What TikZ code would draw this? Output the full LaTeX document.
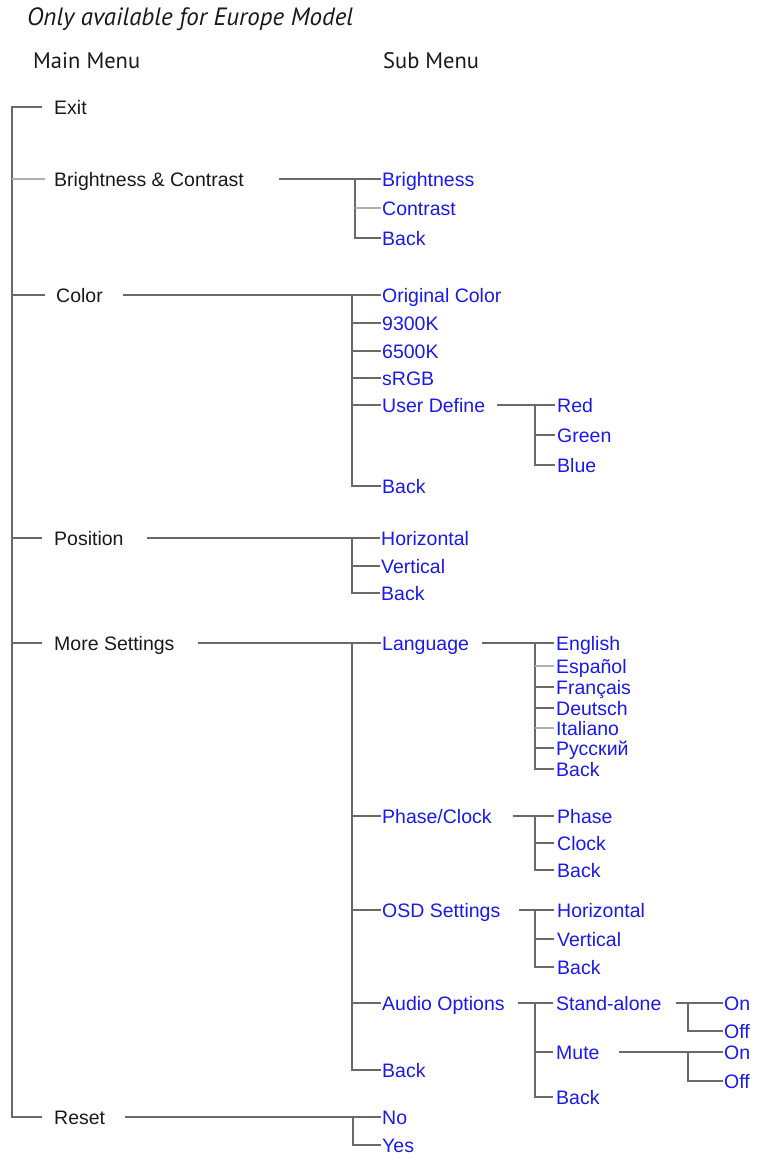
\documentclass[tikz,border=0pt]{standalone}
\usepackage{fontspec}
\setmainfont{Liberation Sans}
\newfontfamily\headfont{PT Sans}
\usetikzlibrary{calc}
\definecolor{itemblue}{RGB}{25,25,235}
\definecolor{itemblack}{RGB}{25,25,25}
\definecolor{linegray}{RGB}{105,105,105}
\definecolor{lightgraytwo}{RGB}{175,175,175}
\begin{document}
\begin{tikzpicture}[x=1pt,y=-1pt,
  item/.style={anchor=west, inner sep=0pt, text height=14.5pt, text depth=0pt, font=\fontsize{19.5}{22}\selectfont},
  mainitem/.style={item, text=itemblack},
  subitem/.style={item, text=itemblue},
  head/.style={anchor=west, inner sep=0pt, text=itemblack, font=\headfont\fontsize{22.5}{26}\selectfont},
  ln/.style={draw=linegray, line width=1.3pt},
  lnlight/.style={draw=lightgraytwo, line width=1.3pt}]
\useasboundingbox (0,0) rectangle (757,1160);

% headings
\node[head, font=\headfont\itshape\fontsize{25}{29}\selectfont] (title) at (27,19) {Only available for Europe Model};
\node[head] (mm) at (33,61) {Main Menu};
\node[head] (sm) at (383,61) {Sub Menu};

% main items
\node[mainitem] (exit) at (54,107) {Exit};
\node[mainitem] (bc) at (54,179) {Brightness \& Contrast};
\node[mainitem] (color) at (56,295) {Color};
\node[mainitem] (pos) at (54,538) {Position};
\node[mainitem] (more) at (54,643) {More Settings};
\node[mainitem] (reset) at (54,1117) {Reset};

\coordinate (m) at (12,0);
\draw[ln] ([xshift=-12pt]exit.west) -- (exit.west -| m) |- ([xshift=-12pt]reset.west);
\draw[lnlight] (bc.west -| m) -- ([xshift=-9pt]bc.west);
\draw[ln] (color.west -| m) -- ([xshift=-11pt]color.west);
\draw[ln] (pos.west -| m) -- ([xshift=-12pt]pos.west);
\draw[ln] (more.west -| m) -- ([xshift=-12pt]more.west);

% Brightness & Contrast
\node[subitem] (bri) at (382,179) {Brightness};
\node[subitem] (con) at (382,208) {Contrast};
\node[subitem] (bcb) at (382,238) {Back};
\coordinate (vb) at (355,0);
\draw[ln] ([xshift=35pt]bc.east) -- ([xshift=-1pt]bri.west);
\draw[ln] (bri.west -| vb) |- ([xshift=-1pt]bcb.west);
\draw[lnlight] (con.west -| vb) -- ([xshift=-1pt]con.west);

% Color
\node[subitem] (orig) at (382,295) {Original Color};
\node[subitem] (k93) at (382,323) {9300K};
\node[subitem] (k65) at (382,351) {6500K};
\node[subitem] (srgb) at (382,378) {sRGB};
\node[subitem] (ud) at (382,405) {User Define};
\node[subitem] (cbk) at (382,486) {Back};
\coordinate (vc) at (352,0);
\draw[ln] ([xshift=20pt]color.east) -- ([xshift=-1pt]orig.west);
\draw[ln] (orig.west -| vc) |- ([xshift=-1pt]cbk.west);
\foreach \n in {k93,k65,srgb,ud} \draw[ln] (\n.west -| vc) -- ([xshift=-1pt]\n.west);

% User Define
\node[subitem] (red) at (557,405) {Red};
\node[subitem] (green) at (557,435) {Green};
\node[subitem] (blue) at (557,465) {Blue};
\coordinate (vu) at (535,0);
\draw[ln] ([xshift=12pt]ud.east) -- ([xshift=-2pt]red.west);
\draw[ln] (red.west -| vu) |- ([xshift=-2pt]blue.west);
\draw[ln] (green.west -| vu) -- ([xshift=-2pt]green.west);

% Position
\node[subitem] (hor) at (381,538) {Horizontal};
\node[subitem] (ver) at (381,566) {Vertical};
\node[subitem] (pbk) at (381,593) {Back};
\coordinate (vp) at (352,0);
\draw[ln] ([xshift=23pt]pos.east) -- ([xshift=-1pt]hor.west);
\draw[ln] (hor.west -| vp) |- ([xshift=-1pt]pbk.west);
\draw[ln] (ver.west -| vp) -- ([xshift=-1pt]ver.west);

% More Settings
\node[subitem] (lang) at (382,643) {Language};
\node[subitem] (pc) at (382,816) {Phase/Clock};
\node[subitem] (osd) at (382,910) {OSD Settings};
\node[subitem] (aud) at (382,1003) {Audio Options};
\node[subitem] (mbk) at (382,1070) {Back};
\coordinate (vm) at (352,0);
\draw[ln] ([xshift=23pt]more.east) -- ([xshift=-1pt]lang.west);
\draw[ln] (lang.west -| vm) |- ([xshift=-1pt]mbk.west);
\foreach \n in {pc,osd,aud} \draw[ln] (\n.west -| vm) -- ([xshift=-1pt]\n.west);

% Language
\node[subitem] (en) at (556,643) {English};
\node[subitem] (es) at (556,666) {Español};
\node[subitem] (fr) at (556,687) {Français};
\node[subitem] (de) at (556,708) {Deutsch};
\node[subitem] (it) at (556,728) {Italiano};
\node[subitem] (ru) at (556,748) {Русский};
\node[subitem] (lbk) at (556,769) {Back};
\coordinate (vl) at (535,0);
\draw[ln] ([xshift=13pt]lang.east) -- ([xshift=-2pt]en.west);
\draw[ln] (en.west -| vl) |- ([xshift=-2pt]lbk.west);
\foreach \n in {fr,de,ru} \draw[ln] (\n.west -| vl) -- ([xshift=-2pt]\n.west);
\foreach \n in {es,it} \draw[lnlight] (\n.west -| vl) -- ([xshift=-2pt]\n.west);

% Phase/Clock
\node[subitem] (ph) at (557,816) {Phase};
\node[subitem] (cl) at (557,843) {Clock};
\node[subitem] (pcbk) at (557,870) {Back};
\coordinate (vpc) at (535,0);
\draw[ln] ([xshift=21pt]pc.east) -- ([xshift=-3pt]ph.west);
\draw[ln] (ph.west -| vpc) |- ([xshift=-3pt]pcbk.west);
\draw[ln] (cl.west -| vpc) -- ([xshift=-3pt]cl.west);

% OSD Settings
\node[subitem] (oh) at (557,910) {Horizontal};
\node[subitem] (ov) at (557,939) {Vertical};
\node[subitem] (obk) at (557,967) {Back};
\coordinate (vo) at (535,0);
\draw[ln] ([xshift=18pt]osd.east) -- ([xshift=-3pt]oh.west);
\draw[ln] (oh.west -| vo) |- ([xshift=-3pt]obk.west);
\draw[ln] (ov.west -| vo) -- ([xshift=-3pt]ov.west);

% Audio Options
\node[subitem] (sa) at (556,1003) {Stand-alone};
\node[subitem] (mute) at (556,1052) {Mute};
\node[subitem] (abk) at (556,1097) {Back};
\coordinate (va) at (535,0);
\draw[ln] ([xshift=13.5pt]aud.east) -- ([xshift=-3pt]sa.west);
\draw[ln] (sa.west -| va) |- ([xshift=-3pt]abk.west);
\draw[ln] (mute.west -| va) -- ([xshift=-3pt]mute.west);

% Stand-alone / Mute
\node[subitem] (on1) at (724,1003) {On};
\node[subitem] (off1) at (724,1031) {Off};
\node[subitem] (on2) at (724,1052) {On};
\node[subitem] (off2) at (724,1081) {Off};
\coordinate (vs) at (688,0);
\draw[ln] ([xshift=14pt]sa.east) -- ([xshift=-1pt]on1.west);
\draw[ln] (on1.west -| vs) |- ([xshift=-1pt]off1.west);
\draw[ln] ([xshift=19pt]mute.east) -- ([xshift=-1pt]on2.west);
\draw[ln] (on2.west -| vs) |- ([xshift=-1pt]off2.west);

% Reset
\node[subitem] (no) at (382,1117) {No};
\node[subitem] (yes) at (382,1145) {Yes};
\coordinate (vr) at (353,0);
\draw[ln] ([xshift=20pt]reset.east) -- ([xshift=-1pt]no.west);
\draw[ln] (no.west -| vr) |- ([xshift=-1pt]yes.west);
\end{tikzpicture}
\end{document}
